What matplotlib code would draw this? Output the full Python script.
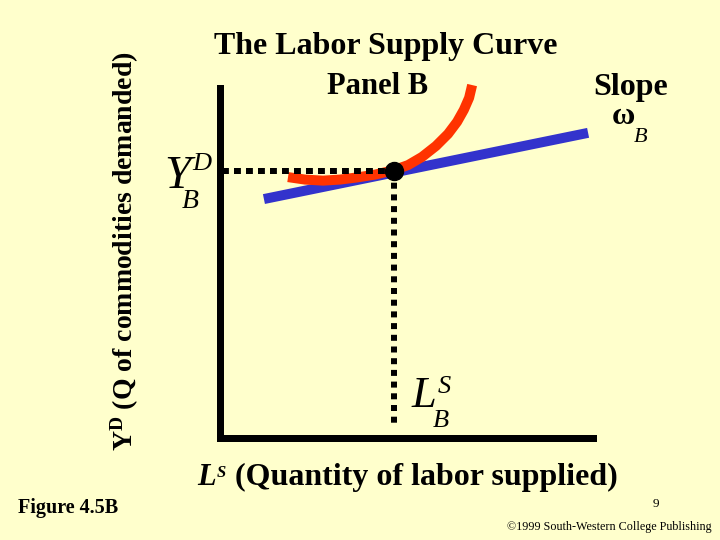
import matplotlib
matplotlib.use("Agg")
import matplotlib.pyplot as plt

# ---- data (abstract units, axes 0..100) ----
budget_x = [11.8, 97.9]          # budget line (slope w_B)
budget_y = [67.5, 86.2]
indiff_x = [18.2, 22.7, 27.5, 32.0, 36.5, 41.3, 46.1, 50.1, 53.8, 57.5, 60.7, 63.1, 64.9, 66.3, 67.1]
indiff_y = [73.7, 73.0, 72.7, 73.0, 73.6, 74.4, 75.6, 77.1, 79.4, 82.5, 85.9, 89.3, 92.7, 96.1, 99.7]
opt_x = 46.4                      # L^S_B
opt_y = 75.4                      # Y^D_B
axis_min = 0.7
floor_y = 2.8

W, H = 720, 540
BG = "#FFFFCC"
plt.rcParams['font.family'] = ['Liberation Serif', 'DejaVu Serif']
plt.rcParams['mathtext.fontset'] = 'custom'
plt.rcParams['mathtext.rm'] = 'Liberation Serif'
plt.rcParams['mathtext.it'] = 'Liberation Serif:italic'
plt.rcParams['mathtext.bf'] = 'Liberation Serif:bold'

fig = plt.figure(figsize=(W / 100, H / 100), dpi=100, facecolor=BG)

def P(x, y):
    return x / W, 1 - y / H

left, right, top, bottom = 219.5, 596.0, 84.0, 438.0
ax = fig.add_axes([left / W, 1 - bottom / H, (right - left) / W, (bottom - top) / H])
ax.set_xlim(0, 100)
ax.set_ylim(0, 100)
ax.patch.set_visible(False)
ax.set_xticks([])
ax.set_yticks([])
for s in ['top', 'right']:
    ax.spines[s].set_visible(False)
lw_axis = 7 * 0.72
for s in ['left', 'bottom']:
    ax.spines[s].set_linewidth(lw_axis)
    ax.spines[s].set_color('black')
    ax.spines[s].set_capstyle('projecting')
ax.spines['left'].set_bounds(0, 100 - 3.5 / 3.54)
ax.spines['bottom'].set_bounds(0, 100 - 3.5 / 3.765)

ax.plot(budget_x, budget_y, color='#3333CC', lw=10 * 0.72, solid_capstyle='butt',
        zorder=2, clip_on=False)
ax.plot(indiff_x, indiff_y, color='#FF3300', lw=10 * 0.72, solid_capstyle='butt',
        solid_joinstyle='round', zorder=3, clip_on=False)
ax.plot([axis_min, opt_x], [opt_y, opt_y], color='black', lw=6 * 0.72,
        linestyle=(0, (1.15, 0.85)), dash_capstyle='butt', zorder=4, clip_on=False)
ax.plot([opt_x, opt_x], [opt_y, floor_y], color='black', lw=6 * 0.72,
        linestyle=(0, (1.0, 0.95)), dash_capstyle='butt', zorder=4, clip_on=False)
ax.plot([opt_x], [opt_y], 'o', color='black', markersize=18 * 0.72, zorder=5, clip_on=False)

# ---- texts ----
fig.text(*P(386, 54), "The Labor Supply Curve", fontsize=23, fontweight='bold',
         ha='center', va='baseline')
fig.text(*P(378, 94), "Panel B", fontsize=22, fontweight='bold', ha='center', va='baseline')
fig.text(*P(631, 95), "Slope", fontsize=23, fontweight='bold', ha='center', va='baseline')
fig.text(*P(612, 124), "\u03c9", fontsize=23, fontweight='bold', ha='left', va='baseline')
fig.text(*P(634, 142), "B", fontsize=16, style='italic', ha='left', va='baseline')

# Y^D_B
fig.text(*P(164, 188), "Y", fontsize=34, style='italic', ha='left', va='baseline')
fig.text(*P(192, 170), "D", fontsize=19, style='italic', ha='left', va='baseline')
fig.text(*P(182, 208), "B", fontsize=20, style='italic', ha='left', va='baseline')

# L^S_B
fig.text(*P(412, 407), "L", fontsize=32, style='italic', ha='left', va='baseline')
fig.text(*P(438, 393), "S", fontsize=19, style='italic', ha='left', va='baseline')
fig.text(*P(433, 427), "B", fontsize=19, style='italic', ha='left', va='baseline')

# x label
fig.text(*P(197, 485), "L", fontsize=22, style='italic', fontweight='bold', ha='left', va='baseline')
fig.text(*P(217, 477), "S", fontsize=12, style='italic', fontweight='bold', ha='left', va='baseline')
fig.text(*P(235, 485), "(Quantity of labor supplied)", fontsize=23, fontweight='bold',
         ha='left', va='baseline')

# y label
fig.text(*P(125, 251), r"$\mathbf{Y^{D}}$ (Q of commodities demanded)", fontsize=20,
         fontweight='bold', rotation=90, ha='center', va='center')

fig.text(*P(18, 513), "Figure 4.5B", fontsize=14.5, fontweight='bold', ha='left', va='baseline')
fig.text(*P(656, 507), "9", fontsize=9.5, ha='center', va='baseline')
fig.text(*P(712, 530), "\u00a91999 South-Western College Publishing", fontsize=8.7,
         ha='right', va='baseline')

fig.savefig("out.png", dpi=100, facecolor=BG)
